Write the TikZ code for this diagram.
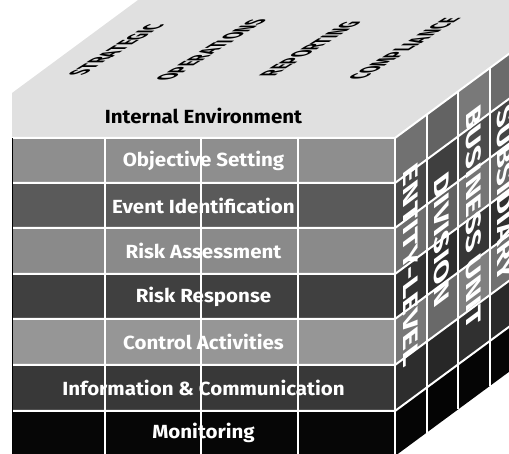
\documentclass[tikz,border=0pt]{standalone}
\usepackage{fontspec}
\setmainfont{Fira Sans}
\definecolor{topc}{HTML}{E0E0E0}
\definecolor{os}{HTML}{8E8E8E}
\definecolor{ei}{HTML}{5A5A5A}
\definecolor{ra}{HTML}{8A8A8A}
\definecolor{rr}{HTML}{404040}
\definecolor{ca}{HTML}{969696}
\definecolor{ic}{HTML}{383838}
\definecolor{mo}{HTML}{060606}
\begin{document}
\begin{tikzpicture}[x=1pt,y=-1pt,
  rowlabel/.style={font=\bfseries\fontsize{19}{19}\selectfont, text=white, inner sep=0pt, xscale=1.08},
  toplabel/.style={font=\bfseries\fontsize{19}{19}\selectfont, text=black, inner sep=0pt},
  sidelabel/.style={font=\bfseries\fontsize{20}{20}\selectfont, text=white, inner sep=0pt},
  gridline/.style={white, line width=2pt}]
\useasboundingbox (0,0) rectangle (509,454);
\clip (0,0) rectangle (509,454);
% top face and light first band
\fill[topc] (12,138) -- (12,93) -- (138,0) -- (521,0) -- (521,45) -- (395,138) -- cycle;
% front rows and right face cells
\foreach \yt/\yb/\c in {138/183/os,183/228/ei,228/274/ra,274/319/rr,319/365/ca,365/411/ic,411/456/mo}{
  \fill[\c] (12,\yt) rectangle (395,\yb);
  \foreach \k/\p in {0/80,1/70,2/85,3/75}{
    \pgfmathsetmacro\a{\k/4}
    \pgfmathsetmacro\b{(\k+1)/4}
    \fill[\c!\p!black] ({395+\a*126},{\yt-\a*93}) -- ({395+\b*126},{\yt-\b*93}) -- ({395+\b*126},{\yb-\b*93}) -- ({395+\a*126},{\yb-\a*93}) -- cycle;
  }
}
% grid
\foreach \y in {138,183,228,274,319,365,411}{
  \draw[gridline] (12,\y) -- (395,\y) -- (521,{\y-93});
}
\foreach \x in {105,201,298,395}{
  \draw[gridline] (\x,138) -- (\x,456);
}
\foreach \k in {1,2,3}{
  \draw[gridline] ({395+\k*31.5},{138-\k*23.25}) -- ({395+\k*31.5},{456-\k*23.25});
}
\draw[black, line width=1pt] (12.5,138) -- (12.5,456);
% front labels
\node[rowlabel, text=black] (ie) at (203.5,115.5) {Internal Environment};
\node[rowlabel] (os) at (203.5,160.5) {Objective Setting};
\node[rowlabel] (ei) at (203.5,205.5) {Event Identification};
\node[rowlabel] (ra) at (203.5,251) {Risk Assessment};
\node[rowlabel] (rr) at (203.5,296.5) {Risk Response};
\node[rowlabel] (ca) at (203.5,342) {Control Activities};
\node[rowlabel] (ic) at (203.5,388) {Information \& Communication};
\node[rowlabel] (mo) at (203.5,433) {Monitoring};
% top labels
\begin{scope}[shift={(116,50)}]
  \node[toplabel, cm={0.9,0.56,-1.25,0,(0,0)}] (st) at (0,0) {STRATEGIC};
\end{scope}
\begin{scope}[shift={(211,50)}]
  \node[toplabel, cm={0.9,0.56,-1.25,0,(0,0)}] (op) at (0,0) {OPERATIONS};
\end{scope}
\begin{scope}[shift={(310,49)}]
  \node[toplabel, cm={0.9,0.56,-1.25,0,(0,0)}] (rp) at (0,0) {REPORTING};
\end{scope}
\begin{scope}[shift={(404,49)}]
  \node[toplabel, cm={0.9,0.56,-1.25,0,(0,0)}] (cp) at (0,0) {COMPLIANCE};
\end{scope}
% side labels
\begin{scope}[shift={(410.75,265)}]
  \node[sidelabel, cm={0,-1.6,1.05,0.78,(0,0)}] (en) at (0,0) {ENTITY-LEVEL};
\end{scope}
\begin{scope}[shift={(442.25,240)}]
  \node[sidelabel, cm={0,-1.6,1.05,0.78,(0,0)}] (dv) at (0,0) {DIVISION};
\end{scope}
\begin{scope}[shift={(473.75,217)}]
  \node[sidelabel, cm={0,-1.6,1.05,0.78,(0,0)}] (bu) at (0,0) {BUSINESS UNIT};
\end{scope}
\begin{scope}[shift={(505.25,193)}]
  \node[sidelabel, cm={0,-1.6,1.05,0.78,(0,0)}] (sb) at (0,0) {SUBSIDIARY};
\end{scope}
\end{tikzpicture}
\end{document}
